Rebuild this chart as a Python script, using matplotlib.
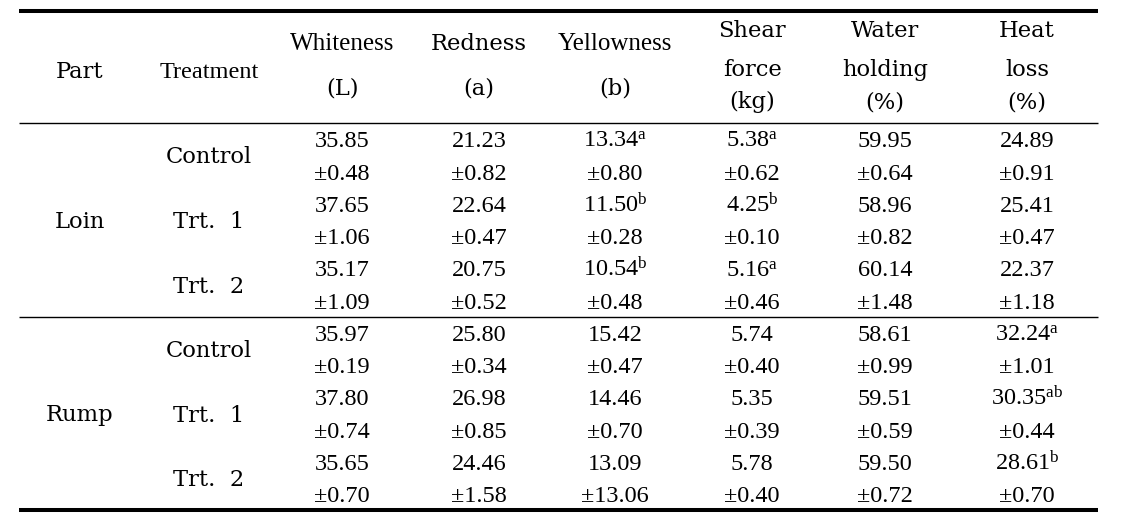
import matplotlib
matplotlib.use("Agg")
import matplotlib.pyplot as plt

plt.rcParams['mathtext.fontset'] = 'custom'
plt.rcParams['mathtext.rm'] = 'Liberation Serif'
plt.rcParams['mathtext.it'] = 'Liberation Serif:italic'
plt.rcParams['mathtext.bf'] = 'Liberation Serif:bold'

# ---- data ----
parts = ["Loin", "Rump"]
treatments = ["Control", "Trt.  1", "Trt.  2"]
headers = [["Whiteness", "(L)"], ["Redness", "(a)"], ["Yellowness", "(b)"],
           ["Shear", "force", "(kg)"], ["Water", "holding", "(%)"], ["Heat", "loss", "(%)"]]

whiteness_mean = [35.85, 37.65, 35.17, 35.97, 37.80, 35.65]
whiteness_sd = [0.48, 1.06, 1.09, 0.19, 0.74, 0.70]
whiteness_sup = ["", "", "", "", "", ""]
redness_mean = [21.23, 22.64, 20.75, 25.80, 26.98, 24.46]
redness_sd = [0.82, 0.47, 0.52, 0.34, 0.85, 1.58]
redness_sup = ["", "", "", "", "", ""]
yellowness_mean = [13.34, 11.50, 10.54, 15.42, 14.46, 13.09]
yellowness_sd = [0.80, 0.28, 0.48, 0.47, 0.70, 13.06]
yellowness_sup = ["a", "b", "b", "", "", ""]
shear_mean = [5.38, 4.25, 5.16, 5.74, 5.35, 5.78]
shear_sd = [0.62, 0.10, 0.46, 0.40, 0.39, 0.40]
shear_sup = ["a", "b", "a", "", "", ""]
water_mean = [59.95, 58.96, 60.14, 58.61, 59.51, 59.50]
water_sd = [0.64, 0.82, 1.48, 0.99, 0.59, 0.72]
water_sup = ["", "", "", "", "", ""]
heat_mean = [24.89, 25.41, 22.37, 32.24, 30.35, 28.61]
heat_sd = [0.91, 0.47, 1.18, 1.01, 0.44, 0.70]
heat_sup = ["", "", "", "a", "ab", "b"]

columns = [(whiteness_mean, whiteness_sd, whiteness_sup),
           (redness_mean, redness_sd, redness_sup),
           (yellowness_mean, yellowness_sd, yellowness_sup),
           (shear_mean, shear_sd, shear_sup),
           (water_mean, water_sd, water_sup),
           (heat_mean, heat_sd, heat_sup)]

# ---- layout (pixel coordinates) ----
W, H = 1127, 528
fig = plt.figure(figsize=(W / 100, H / 100), dpi=100)
ax = fig.add_axes([0, 0, 1, 1])
ax.set_xlim(0, W)
ax.set_ylim(H, 0)
ax.axis('off')

x_left, x_right = 19, 1098
y_top, y_head, y_mid, y_bot = 11, 123, 317, 510
thick, thin = 2.9, 1.0
ax.plot([x_left, x_right], [y_top, y_top], color='black', lw=thick, solid_capstyle='butt')
ax.plot([x_left, x_right], [y_head, y_head], color='black', lw=thin, solid_capstyle='butt')
ax.plot([x_left, x_right], [y_mid, y_mid], color='black', lw=thin, solid_capstyle='butt')
ax.plot([x_left, x_right], [y_bot, y_bot], color='black', lw=thick, solid_capstyle='butt')

x_part, x_trt = 80, 209
col_x = [342, 479, 615, 752, 885, 1027]

NUM = dict(family='Liberation Serif', fontsize=17.5, color='black')
TIM = dict(family='Liberation Serif', fontsize=18, color='black')
BAT = dict(family='DejaVu Serif', fontsize=16.3, color='black')
times_like = {"Whiteness", "Yellowness", "Treatment"}

# header
ax.text(x_part, 78, "Part", ha='center', va='baseline', **BAT)
ax.text(x_trt, 78, "Treatment", ha='center', va='baseline', **dict(TIM, fontsize=17.5))
for cx, lines in zip(col_x, headers):
    if len(lines) == 2:
        ys = [50, 95]
    else:
        ys = [37, 76, 108]
    for y, s in zip(ys, lines):
        style = TIM if s in times_like else BAT
        ax.text(cx, y, s, ha='center', va='baseline', **style)

# body
seg_top = [y_head, y_mid]
seg_bot = [y_mid, y_bot]
for p, part in enumerate(parts):
    pitch = (seg_bot[p] - seg_top[p]) / 6.0
    ax.text(x_part, (seg_top[p] + seg_bot[p]) / 2 + 8, part, ha='center', va='baseline', **BAT)
    for t, trt in enumerate(treatments):
        yc = seg_top[p] + pitch * (2 * t + 1)
        ax.text(x_trt, yc + 8, trt, ha='center', va='baseline', **BAT)
        idx = p * 3 + t
        for cx, (means, sds, sups) in zip(col_x, columns):
            m = f"{means[idx]:.2f}"
            if sups[idx]:
                m = m + r"$^{\mathrm{" + sups[idx] + "}}$"
            y1 = seg_top[p] + pitch * (2 * t + 0.5)
            y2 = seg_top[p] + pitch * (2 * t + 1.5)
            ax.text(cx, y1 + 8, m, ha='center', va='baseline', **NUM)
            ax.text(cx, y2 + 8, "\u00b1" + f"{sds[idx]:.2f}", ha='center', va='baseline', **NUM)

fig.savefig("out.png", dpi=100, facecolor='white')
